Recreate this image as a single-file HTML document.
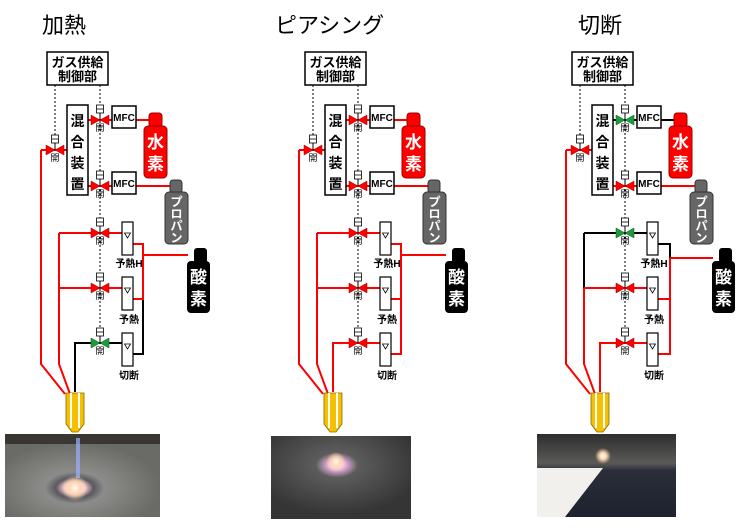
<!DOCTYPE html>
<html><head><meta charset="utf-8"><style>
html,body{margin:0;padding:0;background:#fff;}
svg{display:block;font-family:"Liberation Sans","Noto Sans CJK JP",sans-serif;}
.t{font-size:22px;}
.b{font-size:13px;font-weight:bold;}
.m{font-size:14px;font-weight:bold;}
.s{font-size:10px;font-weight:bold;}
.f{font-size:10px;font-weight:bold;}
.v{font-size:9px;}
.w{fill:#fff;font-weight:bold;}
</style></head><body>
<svg width="740" height="528" viewBox="0 0 740 528" xmlns="http://www.w3.org/2000/svg">
<defs>
<radialGradient id="g1" cx="0.45" cy="0.65" r="0.55"><stop offset="0" stop-color="#fff"/><stop offset="0.12" stop-color="#f7c8d0"/><stop offset="0.22" stop-color="#5a5860"/><stop offset="0.35" stop-color="#8c8c8a"/><stop offset="1" stop-color="#6a6a66"/></radialGradient>
<radialGradient id="g2" cx="0.47" cy="0.35" r="0.6"><stop offset="0" stop-color="#fff"/><stop offset="0.1" stop-color="#e8b0e0"/><stop offset="0.25" stop-color="#5c5c5c"/><stop offset="1" stop-color="#353535"/></radialGradient>
<linearGradient id="g3" x1="0" y1="0" x2="0" y2="1"><stop offset="0" stop-color="#2e2e2e"/><stop offset="0.35" stop-color="#5a5a58"/><stop offset="0.44" stop-color="#2a2e38"/><stop offset="1" stop-color="#1e2230"/></linearGradient>
<radialGradient id="sp" cx="0.5" cy="0.5" r="0.5"><stop offset="0" stop-color="#fff"/><stop offset="0.4" stop-color="#ffd8b0"/><stop offset="1" stop-color="#ffd8b0" stop-opacity="0"/></radialGradient>
<g id="vr">
<line x1="0" y1="-7" x2="0" y2="0" stroke="#000"/>
<rect x="-3.5" y="-15" width="7" height="8" fill="#fff" stroke="#000" stroke-width="0.8"/>
<line x1="-3.5" y1="-11" x2="3.5" y2="-11" stroke="#000" stroke-width="0.8"/>
<path d="M-9,-5V5L0,0ZM9,-5V5L0,0Z" fill="#f00" stroke="#900" stroke-width="0.5"/>
<text x="0" y="11" class="v" text-anchor="middle">開</text>
</g>
<g id="vg">
<line x1="0" y1="-7" x2="0" y2="0" stroke="#000"/>
<rect x="-3.5" y="-15" width="7" height="8" fill="#fff" stroke="#000" stroke-width="0.8"/>
<line x1="-3.5" y1="-11" x2="3.5" y2="-11" stroke="#000" stroke-width="0.8"/>
<path d="M-9,-5V5L0,0ZM9,-5V5L0,0Z" fill="#1a9e3a" stroke="#0a5a1a" stroke-width="0.5"/>
<text x="0" y="11" class="v" text-anchor="middle">開</text>
</g>
<g id="c1">
<rect x="47" y="52" width="61" height="33" fill="#fff" stroke="#000" stroke-width="1.5"/>
<text x="77.5" y="67" class="b" text-anchor="middle">ガス供給</text>
<text x="77.5" y="81" class="b" text-anchor="middle">制御部</text>
<rect x="67" y="105" width="21" height="90" fill="#fff" stroke="#000" stroke-width="1.5"/>
<g class="m" text-anchor="middle"><text x="77.5" y="126">混</text><text x="77.5" y="147">合</text><text x="77.5" y="168">装</text><text x="77.5" y="189">置</text></g>
<rect x="112" y="106" width="24" height="22" fill="#fff" stroke="#000" stroke-width="1.5"/>
<text x="124" y="121" class="f" text-anchor="middle">MFC</text>
<rect x="112" y="172" width="24" height="22" fill="#fff" stroke="#000" stroke-width="1.5"/>
<text x="124" y="187" class="f" text-anchor="middle">MFC</text>
<rect x="149" y="113" width="13" height="14" rx="3" fill="#f00" stroke="#900"/>
<rect x="144" y="126" width="23" height="52" rx="4" fill="#f00" stroke="#900"/>
<text x="155.5" y="148" class="w" font-size="17" text-anchor="middle">水</text>
<text x="155.5" y="170" class="w" font-size="17" text-anchor="middle">素</text>
<rect x="170" y="180" width="12" height="13" rx="3" fill="#666" stroke="#333"/>
<rect x="165" y="192" width="23" height="52" rx="4" fill="#666" stroke="#333"/>
<g class="w" font-size="12" text-anchor="middle"><text x="176.5" y="206">プ</text><text x="176.5" y="218">ロ</text><text x="176.5" y="230">パ</text><text x="176.5" y="242">ン</text></g>
<rect x="194" y="248" width="13" height="15" rx="3" fill="#000"/>
<rect x="187" y="261" width="23" height="52" rx="4" fill="#000"/>
<text x="198.5" y="283" class="w" font-size="17" text-anchor="middle">酸</text>
<text x="198.5" y="305" class="w" font-size="17" text-anchor="middle">素</text>
<g fill="#fff" stroke="#000" stroke-width="1.2">
<rect x="122" y="222" width="11" height="33"/><rect x="122" y="277" width="11" height="33"/><rect x="122" y="333" width="11" height="33"/>
<path d="M124.5,233H130.5L127.5,238Z M124.5,288H130.5L127.5,293Z M124.5,344H130.5L127.5,349Z" stroke-width="0.8"/>
</g>
<g class="s" text-anchor="middle"><text x="129" y="267">予熱H</text><text x="129" y="323">予熱</text><text x="129" y="379">切断</text></g>
<path d="M66,393H84V424L78,432H72L66,424Z" fill="#f5c000" stroke="#8a6a00" stroke-width="0.8"/>
<path d="M71,393V428M79,393V428" stroke="#fff" stroke-width="2"/>
</g>
</defs>
<text x="42" y="33" class="t">加熱</text>
<text x="275" y="33" class="t">ピアシング</text>
<text x="578" y="33" class="t">切断</text>

<!-- Photos -->
<rect x="5" y="434" width="155" height="83" fill="url(#g1)"/>
<rect x="5" y="434" width="155" height="10" fill="#3a3632"/>
<rect x="76" y="438" width="4" height="40" fill="#9ab0ff" opacity="0.7"/>
<rect x="271" y="436" width="140" height="83" fill="url(#g2)"/>
<rect x="537" y="434" width="139" height="83" fill="url(#g3)"/>
<path d="M537,468H603L565,517H537Z" fill="#f2f0ec"/>
<circle cx="603" cy="456" r="8" fill="url(#sp)"/>
<circle cx="336" cy="462" r="10" fill="url(#sp)"/>
<circle cx="75" cy="488" r="13" fill="url(#sp)"/>

<!-- Panel 1 lines -->
<g fill="none" stroke-width="2">
<path d="M55,85V140M100,85V343" stroke="#000" stroke-width="1" stroke-dasharray="2,2"/>
<path d="M41,150H67M41,150V364L65,394" stroke="#f00"/>
<path d="M88,120H112M136,120H150" stroke="#f00"/>
<path d="M88,186H112M136,186H172" stroke="#f00"/>
<path d="M59,233H122M59,288H122M59,233V364L70,394" stroke="#f00"/>
<path d="M75,392V343H122" stroke="#000"/>
<path d="M133,244H143V300M133,299H143M143,255H188" stroke="#f00"/>
<path d="M133,354H143V300" stroke="#000"/>
</g>
<!-- Panel 2 lines -->
<g transform="translate(258,0)" fill="none" stroke-width="2">
<path d="M55,85V140M100,85V343" stroke="#000" stroke-width="1" stroke-dasharray="2,2"/>
<path d="M41,150H67M41,150V364L65,394" stroke="#f00"/>
<path d="M88,120H112M136,120H150" stroke="#f00"/>
<path d="M88,186H112M136,186H172" stroke="#f00"/>
<path d="M59,233H122M59,288H122M59,233V364L70,394" stroke="#f00"/>
<path d="M75,392V343H122" stroke="#f00"/>
<path d="M133,244H143V354H133M133,299H143M143,255H188" stroke="#f00"/>
</g>
<!-- Panel 3 lines -->
<g transform="translate(525,0)" fill="none" stroke-width="2">
<path d="M55,85V140M100,85V343" stroke="#000" stroke-width="1" stroke-dasharray="2,2"/>
<path d="M41,150H67M41,150V364L65,394" stroke="#f00"/>
<path d="M88,120H112M136,120H150" stroke="#000"/>
<path d="M88,186H112M136,186H172" stroke="#f00"/>
<path d="M59,233H122M59,233V288" stroke="#000"/>
<path d="M59,288H122M59,288V364L70,394" stroke="#f00"/>
<path d="M75,392V343H122" stroke="#f00"/>
<path d="M133,244H145V258" stroke="#000"/>
<path d="M145,258H188M145,258V354H133M133,299H145" stroke="#f00"/>
</g>

<use href="#c1"/>
<use href="#c1" transform="translate(258,0)"/>
<use href="#c1" transform="translate(525,0)"/>

<!-- Panel 1 valves -->
<use href="#vr" transform="translate(55,150)"/>
<use href="#vr" transform="translate(100,120)"/>
<use href="#vr" transform="translate(100,186)"/>
<use href="#vr" transform="translate(100,233)"/>
<use href="#vr" transform="translate(100,288)"/>
<use href="#vg" transform="translate(100,343)"/>
<!-- Panel 2 valves -->
<use href="#vr" transform="translate(313,150)"/>
<use href="#vr" transform="translate(358,120)"/>
<use href="#vr" transform="translate(358,186)"/>
<use href="#vr" transform="translate(358,233)"/>
<use href="#vr" transform="translate(358,288)"/>
<use href="#vr" transform="translate(358,343)"/>
<!-- Panel 3 valves -->
<use href="#vr" transform="translate(580,150)"/>
<use href="#vg" transform="translate(625,120)"/>
<use href="#vr" transform="translate(625,186)"/>
<use href="#vg" transform="translate(625,233)"/>
<use href="#vr" transform="translate(625,288)"/>
<use href="#vr" transform="translate(625,343)"/>
</svg>
</body></html>
